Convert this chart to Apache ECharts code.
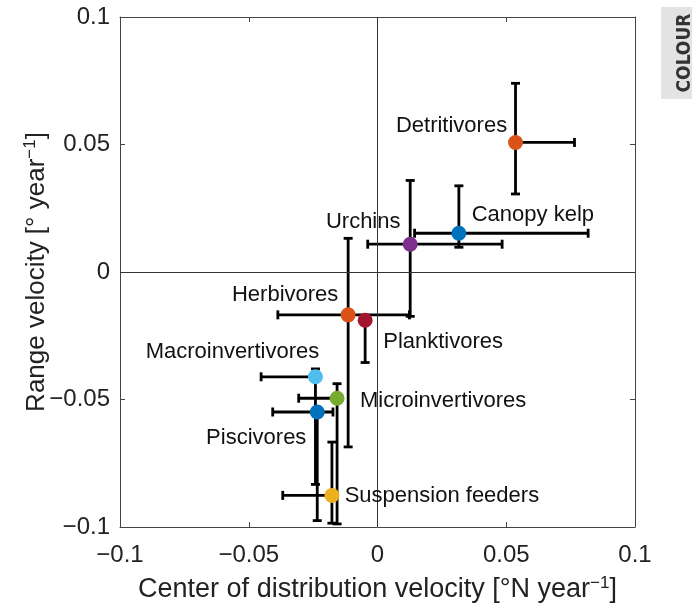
<!DOCTYPE html>
<html>
<head>
<meta charset="utf-8">
<script src="https://cdn.jsdelivr.net/npm/echarts@6/dist/echarts.min.js"></script>
<style>
  html, body { margin: 0; padding: 0; background: #fff; }
  #chart { width: 699px; height: 608px; }
</style>
</head>
<body>
<div id="chart"></div>
<script>
// ---- data ----
const groups = ['Detritivores', 'Canopy kelp', 'Urchins', 'Herbivores', 'Planktivores',
  'Macroinvertivores', 'Microinvertivores', 'Piscivores', 'Suspension feeders'];
const xVel  = [0.0536, 0.0316, 0.0127, -0.0114, -0.0048, -0.0241, -0.0157, -0.0234, -0.0177];
const yVel  = [0.0508, 0.0152, 0.0109, -0.0168, -0.0189, -0.0411, -0.0495, -0.0549, -0.0876];
const xLow  = [0.0520, 0.0144, -0.0038, -0.0387, -0.0060, -0.0452, -0.0306, -0.0407, -0.0368];
const xHigh = [0.0765, 0.0818, 0.0484, 0.0124, -0.0036, -0.0230, -0.0146, -0.0173, -0.0166];
const yLow  = [0.0306, 0.0097, -0.0174, -0.0686, -0.0355, -0.0833, -0.0988, -0.0975, -0.0985];
const yHigh = [0.0740, 0.0338, 0.0359, 0.0132, -0.0178, -0.0380, -0.0438, -0.0538, -0.0667];
const xTickLabels = ['\u22120.1', '\u22120.05', '0', '0.05', '0.1'];
const yTickLabels = ['\u22120.1', '\u22120.05', '0', '0.05', '0.1'];

// ---- styles ----
const colors = ['#D95319', '#0072BD', '#7E2F8E', '#D95319', '#A2142F',
  '#4DBEEE', '#77AC30', '#0072BD', '#EDB120'];
const labelOffsets = [[-64, -17], [74, -18], [-47, -22], [-63, -20], [78, 22],
  [-83, -25], [106, 3], [-61, 26], [110, 1]];
const FONT = "'Liberation Sans', Arial, Helvetica, sans-serif";

const chart = echarts.init(document.getElementById('chart'), null, { renderer: 'canvas' });

const errData = groups.map((g, i) => [xVel[i], yVel[i], xLow[i], xHigh[i], yLow[i], yHigh[i]]);

function renderErr(params, api) {
  const x = api.value(0), y = api.value(1);
  const pl = api.coord([api.value(2), y]);
  const ph = api.coord([api.value(3), y]);
  const pb = api.coord([x, api.value(4)]);
  const pt = api.coord([x, api.value(5)]);
  const c = 4.5;
  const st = { stroke: '#000', lineWidth: 2.8 };
  const seg = (x1, y1, x2, y2) => ({ type: 'line', shape: { x1, y1, x2, y2 }, style: st });
  return {
    type: 'group',
    children: [
      seg(pl[0], pl[1], ph[0], ph[1]),
      seg(pl[0], pl[1] - c, pl[0], pl[1] + c),
      seg(ph[0], ph[1] - c, ph[0], ph[1] + c),
      seg(pb[0], pb[1], pt[0], pt[1]),
      seg(pb[0] - c, pb[1], pb[0] + c, pb[1]),
      seg(pt[0] - c, pt[1], pt[0] + c, pt[1])
    ]
  };
}

const axisCommon = {
  min: -0.1, max: 0.1, interval: 0.05,
  axisLine: { show: true, onZero: false, lineStyle: { color: '#444', width: 1 } },
  axisTick: { show: true, inside: true, length: 5, lineStyle: { color: '#444', width: 1 } },
  splitLine: { show: false }
};

const supRichX = { sup: { fontSize: 17, verticalAlign: 'top', padding: [0, 0, 12, 0], fontFamily: FONT, color: '#222' } };
const supRichY = { sup: { fontSize: 17, verticalAlign: 'top', padding: [0, 0, 12, 0], fontFamily: FONT, color: '#222' } };

const series = [
  {
    type: 'custom',
    xAxisIndex: 0, yAxisIndex: 0,
    renderItem: renderErr,
    encode: { x: [0, 2, 3], y: [1, 4, 5] },
    data: errData,
    z: 2,
    silent: true
  }
];

groups.forEach((g, i) => {
  series.push({
    type: 'scatter',
    name: g,
    xAxisIndex: 0, yAxisIndex: 0,
    symbolSize: 15,
    itemStyle: { color: colors[i], opacity: 1 },
    data: [[xVel[i], yVel[i]]],
    z: 5,
    label: {
      show: true, position: 'inside', offset: labelOffsets[i],
      formatter: g, color: '#111', fontSize: 22, fontFamily: FONT
    },
    emphasis: { disabled: true }
  });
});

series.push({
  type: 'scatter', data: [], xAxisIndex: 0, yAxisIndex: 0,
  markLine: {
    silent: true, symbol: 'none', animation: false,
    label: { show: false },
    lineStyle: { color: '#333', width: 1, type: 'solid' },
    data: [{ xAxis: 0 }, { yAxis: 0 }]
  },
  z: 1
});

chart.setOption({
  animation: false,
  backgroundColor: '#fff',
  grid: { left: 120, top: 17, right: 64, bottom: 74, containLabel: false },
  xAxis: [
    Object.assign({}, axisCommon, {
      type: 'value', position: 'bottom',
      axisLabel: {
        show: true, margin: 16, color: '#222', fontSize: 24, fontFamily: FONT,
        formatter: (v, idx) => xTickLabels[idx]
      },
      name: 'Center of distribution velocity [\u00B0N year{sup|\u22121}]',
      nameLocation: 'middle', nameGap: 48, nameMoveOverlap: false,
      nameTextStyle: { fontSize: 27, color: '#222', fontFamily: FONT, rich: supRichX }
    }),
    Object.assign({}, axisCommon, {
      type: 'value', position: 'top', axisLabel: { show: false }
    })
  ],
  yAxis: [
    Object.assign({}, axisCommon, {
      type: 'value', position: 'left',
      axisLabel: {
        show: true, margin: 10, color: '#222', fontSize: 24, fontFamily: FONT,
        formatter: (v, idx) => yTickLabels[idx]
      },
      name: 'Range velocity [\u00B0 year{sup|\u22121}]',
      nameLocation: 'middle', nameGap: 69, nameRotate: 90, nameMoveOverlap: false,
      nameTextStyle: { fontSize: 26, color: '#222', fontFamily: FONT, rich: supRichY }
    }),
    Object.assign({}, axisCommon, {
      type: 'value', position: 'right', axisLabel: { show: false }
    })
  ],
  series: series,
  graphic: [
    {
      type: 'rect', left: 661, top: 7, shape: { width: 31, height: 92 },
      style: { fill: '#e3e3e3' }, silent: true
    },
    {
      type: 'text', x: 685, y: 53, rotation: Math.PI / 2,
      style: {
        text: 'COLOUR', fill: '#333', font: "bold 19px 'DejaVu Sans Condensed', 'Liberation Sans Narrow', sans-serif",
        align: 'center', verticalAlign: 'middle'
      },
      silent: true
    }
  ]
});
</script>
</body>
</html>
